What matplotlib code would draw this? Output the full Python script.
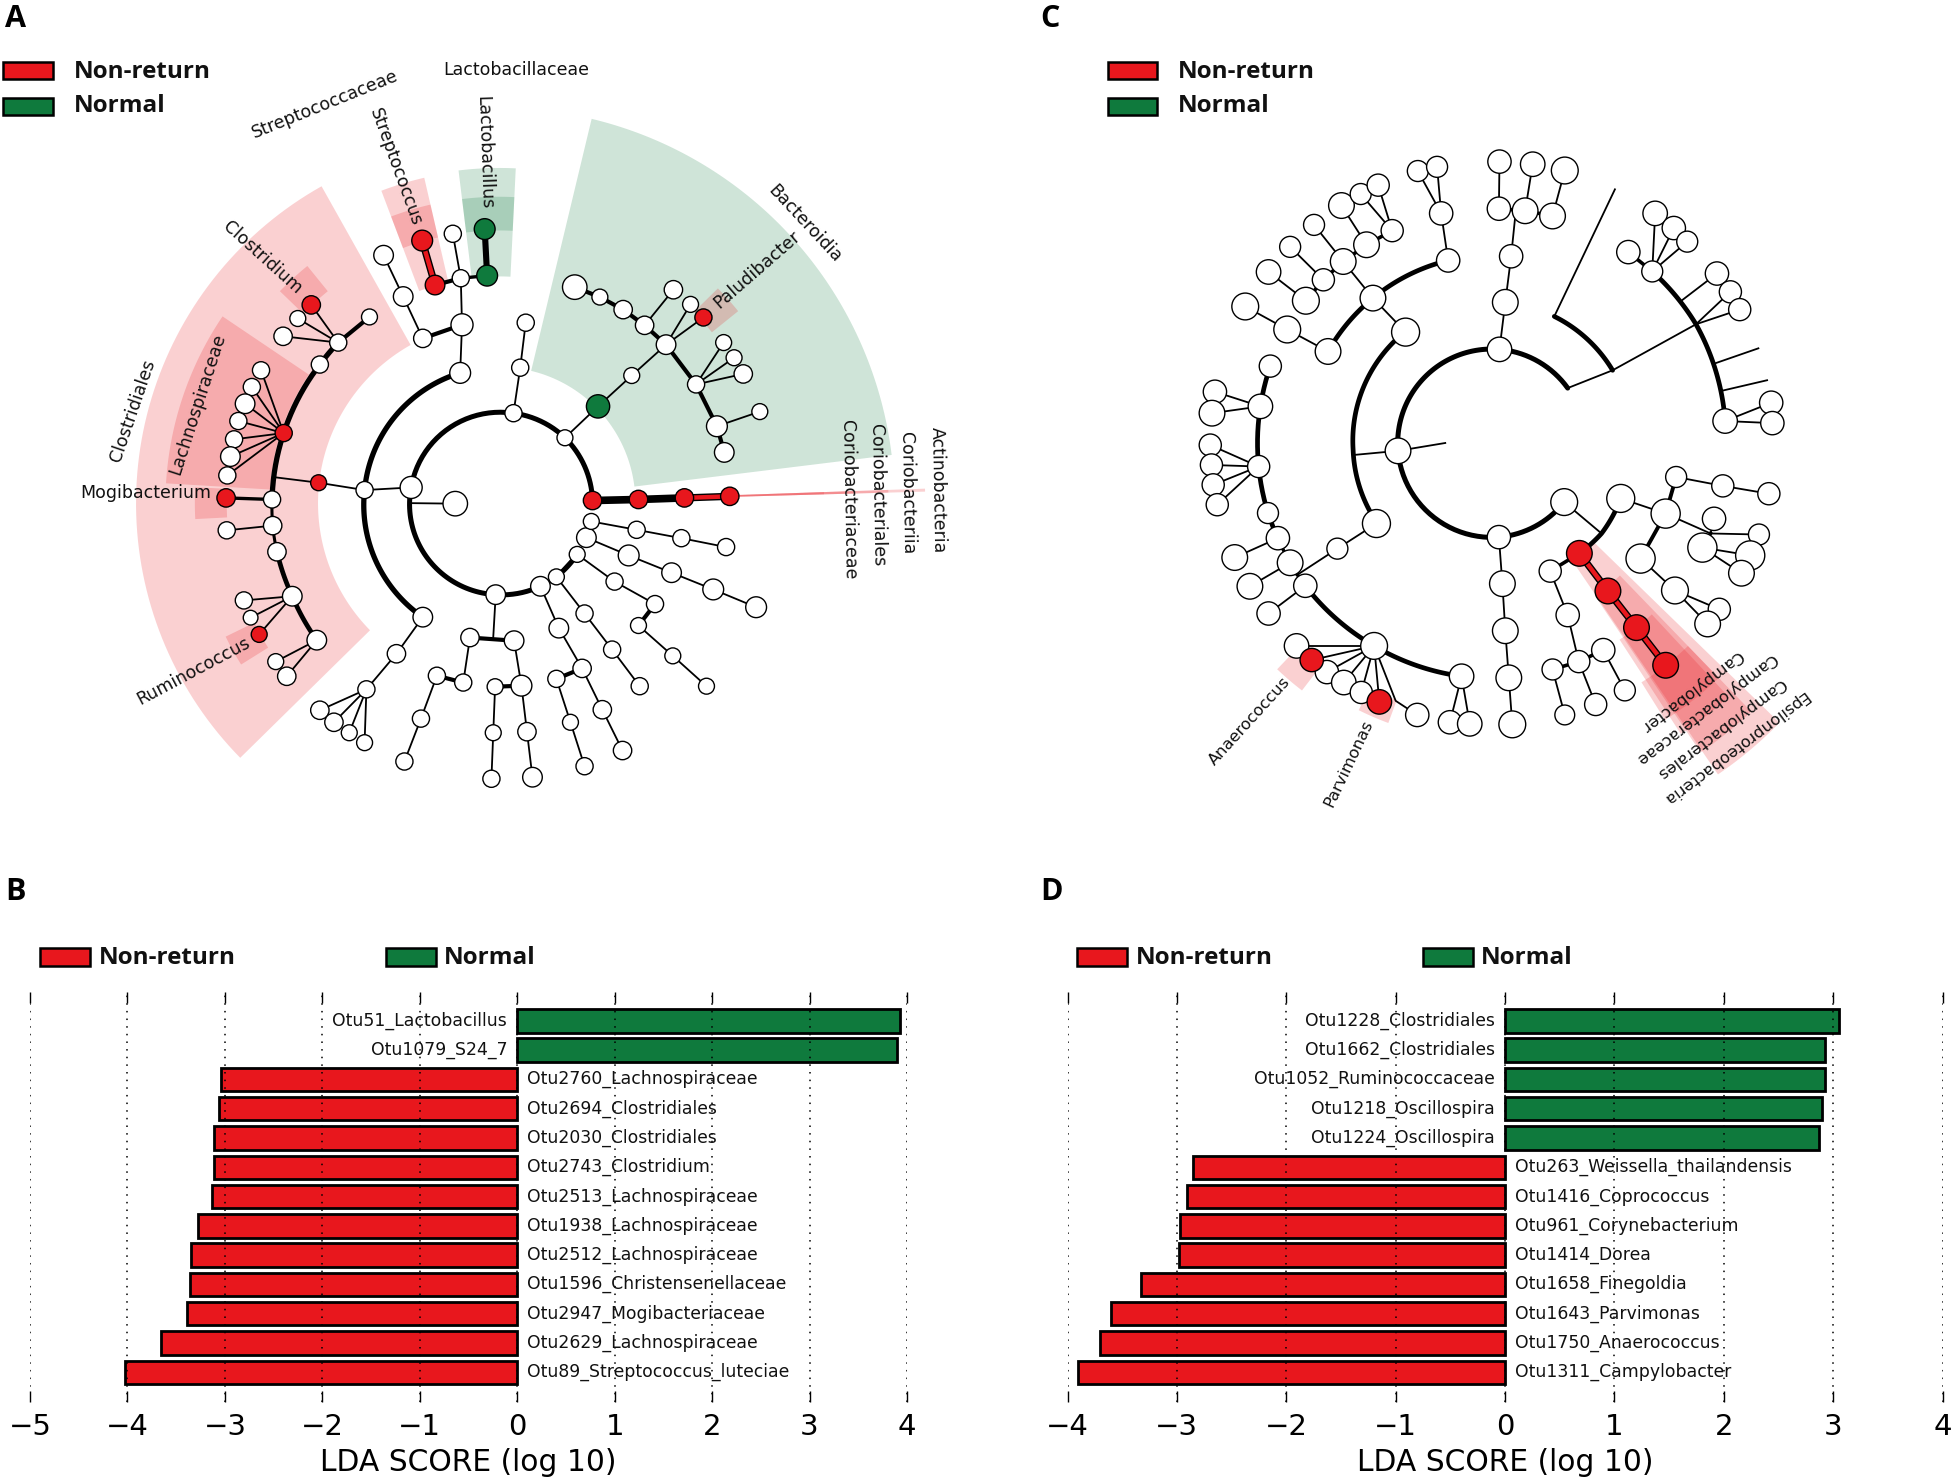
import numpy as np
import matplotlib
matplotlib.use("Agg")
import matplotlib.pyplot as plt
from matplotlib.patches import Polygon, Rectangle

RED = "#e8171d"
GREEN = "#0f7a3d"
W, H = 1955, 1481

# ---------- bar panels ----------
B_LABELS = ["Otu51_Lactobacillus", "Otu1079_S24_7", "Otu2760_Lachnospiraceae", "Otu2694_Clostridiales",
            "Otu2030_Clostridiales", "Otu2743_Clostridium", "Otu2513_Lachnospiraceae", "Otu1938_Lachnospiraceae",
            "Otu2512_Lachnospiraceae", "Otu1596_Christensenellaceae", "Otu2947_Mogibacteriaceae",
            "Otu2629_Lachnospiraceae", "Otu89_Streptococcus_luteciae"]
B_VALUES = [3.93, 3.90, -3.04, -3.06, -3.11, -3.11, -3.13, -3.28, -3.35, -3.36, -3.39, -3.66, -4.02]
D_LABELS = ["Otu1228_Clostridiales", "Otu1662_Clostridiales", "Otu1052_Ruminococcaceae", "Otu1218_Oscillospira",
            "Otu1224_Oscillospira", "Otu263_Weissella_thailandensis", "Otu1416_Coprococcus", "Otu961_Corynebacterium",
            "Otu1414_Dorea", "Otu1658_Finegoldia", "Otu1643_Parvimonas", "Otu1750_Anaerococcus", "Otu1311_Campylobacter"]
D_VALUES = [3.05, 2.93, 2.93, 2.90, 2.87, -2.85, -2.91, -2.97, -2.98, -3.33, -3.60, -3.70, -3.90]
B_TICKS = list(range(-5, 5))
D_TICKS = list(range(-4, 5))
LEGEND_NAMES = ["Non-return", "Normal"]

# ---------- cladogram A ----------
A_CENTER = (815, 962)
A_WHITE = [(922,837,13),(838,790,14),(671,932,18),(809,1137,16),(882,1121,16),(908,1103,13),(942,1060,13),(957,1028,16),(965,997,13),
           (743,963,20),(1031,718,13),(1087,659,16),(1052,622,15),(1017,592,15),(979,568,13),(938,549,20),(1099,554,15),(1127,582,13),
           (1136,735,14),(1170,815,17),(1182,865,16),(1240,787,13),(1181,655,13),(1198,684,13),(1213,715,15),(849,703,14),(858,617,14),
           (595,937,14),(751,713,17),(690,1180,16),(754,621,18),(752,532,14),(739,447,14),(690,647,15),(658,567,16),(626,488,16),
           (552,655,14),(522,697,14),(444,955,14),(445,1005,15),(452,1055,15),(477,1140,16),(517,1224,16),(603,606,13),(486,609,13),(462,643,15),
           (426,708,14),(411,740,14),(400,772,16),(389,805,14),(382,840,14),(376,873,16),(371,909,14),(370,1014,14),(398,1148,14),(409,1181,12),
           (450,1265,13),(468,1293,15),(647,1250,15),(598,1318,14),(522,1358,15),(545,1381,15),(570,1401,13),(595,1420,13),
           (767,1219,15),(839,1225,16),(756,1305,14),(713,1292,14),(687,1374,14),(660,1456,14),(851,1311,17),(808,1313,13),(860,1399,15),(869,1486,16),(805,1401,13),(802,1489,14),
           (912,1201,16),(950,1278,15),(908,1298,14),(983,1357,15),(1016,1435,15),(931,1381,13),(954,1465,14),
           (954,1173,14),(999,1242,14),(1044,1312,14),(1003,1112,14),(1069,1155,14),(1042,1196,13),(1098,1254,13),(1153,1312,13),
           (1026,1062,17),(1096,1095,16),(1164,1127,17),(1234,1161,17),(1039,1013,14),(1112,1029,14),(1185,1046,14)]
A_RED = [(967,957,15),(1042,955,15),(1117,952,15),(1191,949,15),(1148,607,14),(520,923,13),(710,545,16),(689,460,17),
         (508,583,15),(463,828,14),(369,952,15),(423,1213,13)]
A_GREEN = [(976,777,19),(795,527,17),(791,438,17)]
A_ARCS = [(3.6, [(967,957),(922,837),(838,790),(671,932),(809,1137),(882,1121)]),
          (3.0, [(882,1121),(908,1103)]), (3.4, [(908,1103),(942,1060)]),
          (3.8, [(751,713),(595,937),(690,1180)]),
          (3.8, [(552,655),(522,697),(463,828),(444,955)]),
          (2.2, [(444,955),(445,1005)]),
          (3.4, [(452,1055),(477,1140),(517,1224)]), (2.2, [(445,1005),(452,1055)])]
A_THIN = [[(671,962),(743,963)], [(922,837),(976,777),(1031,718),(1087,659)], [(1052,622),(1099,554)], [(1087,659),(1127,582)], [(1087,659),(1148,607)],
          [(1170,815),(1240,787)], [(1136,735),(1181,655)], [(1136,735),(1198,684)], [(1136,735),(1213,715)], [(838,790),(849,703),(858,617)],
          [(671,932),(595,937)], [(595,937),(520,923),(445,912)], [(751,713),(754,621),(752,532),(739,447)], [(690,647),(658,567),(626,488)],
          [(552,655),(508,583)], [(552,655),(486,609)], [(552,655),(462,643)],
          [(463,828),(426,708)], [(463,828),(411,740)], [(463,828),(400,772)], [(463,828),(389,805)], [(463,828),(382,840)], [(463,828),(376,873)], [(463,828),(371,909)],
          [(445,1005),(370,1014)], [(477,1140),(398,1148)], [(477,1140),(409,1181)], [(477,1140),(423,1213)], [(517,1224),(450,1265)], [(517,1224),(468,1293)],
          [(690,1180),(647,1250),(598,1318),(522,1358)], [(598,1318),(545,1381)], [(598,1318),(570,1401)], [(598,1318),(595,1420)],
          [(809,1137),(805,1218)], [(767,1219),(756,1305)], [(713,1292),(687,1374),(660,1456)], [(839,1225),(851,1311),(860,1399),(869,1486)], [(808,1313),(805,1401),(802,1489)],
          [(882,1121),(912,1201),(950,1278),(983,1357),(1016,1435)], [(908,1298),(931,1381),(954,1465)],
          [(908,1103),(954,1173),(999,1242),(1044,1312)], [(942,1060),(1003,1112),(1069,1155)], [(1042,1196),(1098,1254),(1153,1312)],
          [(957,1028),(1026,1062),(1096,1095),(1164,1127),(1234,1161)], [(965,997),(1039,1013),(1112,1029),(1185,1046)]]
A_THICK = [(3.0, [(1052,622),(1017,592),(979,568),(938,549)]), (3.0, [(1087,659),(1052,622)]), (3.0, [(1087,659),(1136,735),(1170,815),(1182,865)]),
           (3.0, [(754,621),(690,647)]), (3.0, [(752,532),(710,545)]), (2.4, [(752,532),(795,527)]), (4.4, [(795,527),(791,438)]),
           (3.0, [(552,655),(603,606)]), (2.4, [(444,955),(369,952)]), (3.0, [(767,1219),(839,1225)]), (3.0, [(756,1305),(713,1292)]),
           (3.0, [(851,1311),(808,1313)]), (3.0, [(950,1278),(908,1298)]), (3.0, [(1069,1155),(1042,1196)]),
           (5.5, [(967,957),(1042,955),(1117,952)]), (2.4, [(942,1060),(908,1103)])]
A_RED_LINKS = [[(1117,952),(1191,949)], [(710,545),(689,460)]]
# (inner radius, outer radius, start angle, end angle, colour)
A_SHADES = [(296,593,119.3,224.5,RED), (222,645,7,76.5,GREEN), (370,545,103,110.7,RED), (445,500,103,110.7,RED),
            (370,547,87.2,97,GREEN), (445,500,87.2,97,GREEN), (375,545,146,176.6,RED), (445,497,177,183,RED),
            (445,498,129,136,RED), (445,497,206,212,RED), (445,500,38.8,44.5,RED),
            (152,695,1.55,1.95,RED), (227,635,1.55,1.95,RED), (302,580,1.55,1.95,RED), (376,530,1.55,1.95,RED)]
A_TEXT = ["Lactobacillaceae","Streptococcaceae","Streptococcus","Lactobacillus","Bacteroidia","Paludibacter","Clostridium","Clostridiales",
          "Lachnospiraceae","Mogibacterium","Ruminococcus","Actinobacteria","Coriobacteriia","Coriobacteriales","Coriobacteriaceae"]
A_TEXT_X = [843,531,645,790,1313,1235,428,217,322,238,315,1530,1480,1432,1385]
A_TEXT_Y = [133,200,320,292,427,515,492,785,772,943,1283,938,942,947,955]
A_TEXT_ROT = [0,22,-70,-88,-47,41,-42,71,72,0,28,-89,-89,-89,-89]

# ---------- cladogram C ----------
C_CENTER = (775, 847)
C_WHITE = [(788,668,21),(614,862,22),(787,1027,20),(899,960,23),(627,635,24),(577,1001,24),(571,570,22),(510,1049,18),
           (494,672,22),(700,498,20),(424,630,23),(352,586,23),(520,500,22),(486,535,19),(456,575,23),(392,520,21),(429,472,18),(470,430,18),(517,393,22),(560,468,22),(604,441,19),(550,371,18),(580,354,19),
           (688,408,20),(648,327,18),(681,319,18),(798,578,22),(808,490,20),(832,403,22),(787,399,20),(879,413,22),(788,309,20),(845,314,21),(900,326,23),
           (1050,519,18),(1175,805,21),(1161,523,20),(1184,558,19),(1200,592,19),(1254,770,20),(1256,809,20),(1009,482,20),(1055,408,21),(1087,436,20),(1110,462,18),
           (395,700,19),(378,777,21),(375,892,19),(391,981,18),(408,1029,20),(429,1076,22),(455,1120,20),(573,1235,23),(723,1293,21),
           (300,749,20),(295,790,22),(292,851,19),(294,889,19),(297,927,19),(304,965,19),(334,1066,22),(360,1121,22),(392,1173,20),
           (440,1235,21),(492,1285,20),(521,1305,21),(551,1324,19),(647,1367,20),(703,1381,20),(737,1384,21),
           (793,1116,22),(798,1206,22),(804,1296,22),(810,1385,23),(996,953,24),(875,1092,19),(905,1176,20),(924,1265,19),(966,1243,20),(879,1280,18),(953,1347,19),(900,1367,17),(1003,1320,18),
           (1073,982,25),(1091,912,18),(1171,929,19),(1250,944,19),(1030,1068,25),(1089,1129,23),(1165,1165,19),(1145,1193,22),(1136,1047,25),(1156,992,20),(1233,1022,18),(1218,1062,25),(1203,1096,22)]
C_RED = [(925,1058,22),(974,1130,22),(1023,1200,22),(1073,1272,22),(466,1262,20),(582,1342,21)]
C_ARCS = [(3.6, [(905,742),(788,668),(614,862),(787,1027),(899,960)]),
          (3.4, [(610,650),(537,860),(567,980)]),
          (3.4, [(494,672),(571,570),(700,498)]),
          (3.4, [(882,605),(982,708)]),
          (3.4, [(1050,519),(1125,620),(1175,805)]),
          (3.4, [(395,700),(378,777),(375,892),(391,981),(408,1029)]),
          (2.4, [(408,1029),(429,1076),(455,1120)]),
          (3.4, [(455,1120),(573,1235),(723,1293)]),
          (3.4, [(996,953),(963,1020),(925,1058)])]
C_THIN = [[(614,862),(695,847)], [(614,862),(537,870)], [(627,635),(571,570)], [(577,1001),(510,1049),(440,1100)], [(494,672),(424,630),(352,586)],
          [(571,570),(520,500),(470,430)], [(486,535),(429,472)], [(456,575),(392,520)], [(560,468),(517,393)], [(604,441),(550,371)], [(604,441),(580,354)],
          [(700,498),(688,408),(648,327)], [(688,408),(681,319)], [(788,668),(798,578),(808,490),(816,403)], [(787,399),(788,309)], [(832,403),(845,314)], [(879,413),(900,326)],
          [(905,742),(982,708),(1125,620)], [(882,605),(986,362)], [(1100,575),(1161,523)], [(1125,620),(1184,558)], [(1125,620),(1200,592)], [(1157,695),(1232,666)], [(1170,747),(1247,727)],
          [(1175,805),(1254,770)], [(1175,805),(1256,809)], [(1050,519),(1055,408)], [(1050,519),(1087,436)], [(1050,519),(1110,462)],
          [(378,777),(300,749)], [(378,777),(295,790)], [(375,892),(292,851)], [(375,892),(294,889)], [(375,892),(297,927)], [(375,892),(304,965)],
          [(408,1029),(334,1066)], [(429,1076),(360,1121)], [(455,1120),(392,1173)],
          [(573,1235),(440,1235)], [(573,1235),(466,1262)], [(573,1235),(492,1285)], [(573,1235),(521,1305)], [(573,1235),(551,1324)], [(573,1235),(582,1342)], [(573,1235),(610,1340),(647,1367)],
          [(723,1293),(703,1381)], [(723,1293),(737,1384)], [(787,1027),(793,1116),(798,1206),(804,1296),(810,1385)],
          [(899,960),(963,1020)], [(875,1092),(905,1176),(924,1265),(953,1347)], [(879,1280),(900,1367)], [(966,1243),(1003,1320)], [(996,953),(1073,982)],
          [(1091,912),(1171,929),(1250,944)], [(1030,1068),(1089,1129),(1165,1165)], [(1089,1129),(1145,1193)], [(1073,982),(1150,1020),(1233,1022)], [(1150,1020),(1156,992)],
          [(1136,1047),(1218,1062)], [(1136,1047),(1203,1096)]]
C_THICK = [(2.6, [(520,500),(486,535),(456,575)]), (2.6, [(520,500),(560,468),(604,441)]), (2.6, [(787,399),(832,403),(879,413)]),
           (2.6, [(1050,519),(1009,482)]), (2.6, [(925,1058),(875,1092)]), (2.6, [(879,1280),(924,1265),(966,1243)]),
           (2.8, [(1073,982),(1091,912)]), (2.8, [(1073,982),(1030,1068)]), (2.6, [(1150,1020),(1136,1047)])]
C_RED_LINKS = [[(925,1058),(974,1130),(1023,1200),(1073,1272)]]
C_SHADES = [(245,688,-55.7,-44.2,RED), (316,640,-56,-46,RED), (402,595,-57,-47,RED), (484,560,-58,-46,RED),
            (470,535,226.5,232.5,RED), (470,512,243.5,249.7,RED)]
C_TEXT = ["Campylobacter","Campylobacteraceae","Campylobacterales","Epsilonproteobacteria","Anaerococcus","Parvimonas"]
C_TEXT_X = [1118,1143,1168,1192,359,530]
C_TEXT_Y = [1320,1355,1392,1430,1379,1460]
C_TEXT_ROT = [217.5,217.4,217,217,47.7,64.6]

fig = plt.figure(figsize=(W/100, H/100), dpi=100, facecolor="white")


def px_axes(x0, y0, w, h):
    return fig.add_axes([x0/W, 1-(y0+h)/H, w/W, h/H])


def clade(box, sx, sy, center, white, red, green, arcs, thin, thick, links, shades, text, tx, ty, rot, fs):
    ax = px_axes(*box)
    ax.set_xlim(0, box[2]*sx)
    ax.set_ylim(box[3]*sy, 0)
    ax.axis("off")
    asp = sy/sx
    cx, cy = center
    for rin, rout, a0, a1, col in shades:
        t = np.radians(np.linspace(a0, a1, 80))
        rr = np.r_[np.full(80, rout), np.full(80, rin)]
        tt = np.r_[t, t[::-1]]
        pts = np.c_[cx+rr*np.cos(tt), cy-asp*rr*np.sin(tt)]
        ax.add_patch(Polygon(pts, closed=True, facecolor=col, alpha=0.2, edgecolor="none", zorder=1))
    for lw, chain in arcs:
        p = np.array(chain, float)
        dx, dy = p[:, 0]-cx, (cy-p[:, 1])/asp
        r, a = np.hypot(dx, dy), np.unwrap(np.arctan2(dy, dx))
        u = np.linspace(0, len(p)-1, 40*len(p))
        ri, ai = np.interp(u, np.arange(len(p)), r), np.interp(u, np.arange(len(p)), a)
        ax.plot(cx+ri*np.cos(ai), cy-asp*ri*np.sin(ai), color="k", lw=lw, zorder=2, solid_capstyle="round")
    for chain in thin:
        p = np.array(chain)
        ax.plot(p[:, 0], p[:, 1], color="k", lw=1.3, zorder=2)
    for lw, chain in thick:
        p = np.array(chain)
        ax.plot(p[:, 0], p[:, 1], color="k", lw=lw, zorder=2)
    for chain in links:
        p = np.array(chain)
        ax.plot(p[:, 0], p[:, 1], color="k", lw=5.2, zorder=2.1)
        ax.plot(p[:, 0], p[:, 1], color=RED, lw=3.2, zorder=2.2)
    for nodes, col in ((white, "white"), (red, RED), (green, GREEN)):
        if nodes:
            n = np.array(nodes, float)
            ax.scatter(n[:, 0], n[:, 1], s=(2*n[:, 2]/sx*0.72)**2, facecolor=col, edgecolor="k", lw=1.0, zorder=3)
    for s, x, y, r_ in zip(text, tx, ty, rot):
        ax.text(x, y, s, rotation=r_, rotation_mode="anchor", ha="center", va="center", fontsize=fs, color="#111111", zorder=5)
    return ax


clade((0, 0, 960, 820), 1.632, 1.912, A_CENTER, A_WHITE, A_RED, A_GREEN, A_ARCS, A_THIN, A_THICK, A_RED_LINKS, A_SHADES,
      A_TEXT, A_TEXT_X, A_TEXT_Y, A_TEXT_ROT, 12.5)
clade((1040, 0, 915, 820), 1.715, 1.912, C_CENTER, C_WHITE, C_RED, [], C_ARCS, C_THIN, C_THICK, C_RED_LINKS, C_SHADES,
      C_TEXT, C_TEXT_X, C_TEXT_Y, C_TEXT_ROT, 11.7)


def bars(box, labels, values, ticks):
    ax = px_axes(*box)
    y = np.arange(len(values))
    cols = [GREEN if v > 0 else RED for v in values]
    ax.barh(y, values, height=0.8, color=cols, edgecolor="k", lw=2.0, zorder=2)
    ax.set_xlim(ticks[0], ticks[-1])
    ax.set_ylim(len(values), -1)
    ax.set_xticks(ticks)
    ax.set_yticks([])
    ax.grid(axis="x", color="k", ls=(0, (1, 4)), lw=1.1, zorder=3)
    ax.set_axisbelow(False)
    for s in ax.spines.values():
        s.set_visible(False)
    ax.tick_params(axis="x", top=True, bottom=True, direction="in", length=8, width=1, labelsize=21, pad=8)
    ax.set_xlabel("LDA SCORE (log 10)", fontsize=21.4, labelpad=5)
    unit = box[2]/(ticks[-1]-ticks[0])
    for yi, v, s in zip(y, values, labels):
        off = -10/unit if v > 0 else 10/unit
        ax.text(off, yi, s, ha="right" if v > 0 else "left", va="center", fontsize=12.4, color="#111111", zorder=4)
    return ax


bars((30, 991.5, 877, 410), B_LABELS, B_VALUES, B_TICKS)
bars((1067.5, 991.5, 875, 410), D_LABELS, D_VALUES, D_TICKS)

# overlay in pixel units for legends and panel letters
ov = fig.add_axes([0, 0, 1, 1], facecolor="none")
ov.set_xlim(0, W)
ov.set_ylim(H, 0)
ov.axis("off")


def legend(items):
    for (x0, x1, y0, y1, tx, ty), name, col in zip(items, LEGEND_NAMES, (RED, GREEN)):
        ov.add_patch(Rectangle((x0, y0), x1-x0, y1-y0, facecolor=col, edgecolor="k", lw=1.8))
        ov.text(tx, ty, name, fontsize=17.5, fontweight="bold", family="Open Sans", va="center", ha="left", color="#111111")


legend([(3, 53, 62, 79, 74, 72.5), (3, 53, 98, 115, 74, 106)])
legend([(1108, 1157, 62, 79, 1178, 72.5), (1108, 1157, 98, 115, 1178, 106)])
legend([(40, 90, 948, 966, 99, 958), (386, 436, 948, 966, 444, 958)])
legend([(1077, 1127, 948, 966, 1136, 958), (1423, 1473, 948, 966, 1481, 958)])

PANEL_LETTERS = ["A", "C", "B", "D"]
LETTER_X = [5, 1040, 5, 1040]
LETTER_Y = [19, 19, 892, 892]
for s, x, y in zip(PANEL_LETTERS, LETTER_X, LETTER_Y):
    ov.text(x, y, s, fontsize=22, fontweight="bold", family="Open Sans", va="center", ha="left", color="k")

fig.savefig("out.png", dpi=100, facecolor="white")
